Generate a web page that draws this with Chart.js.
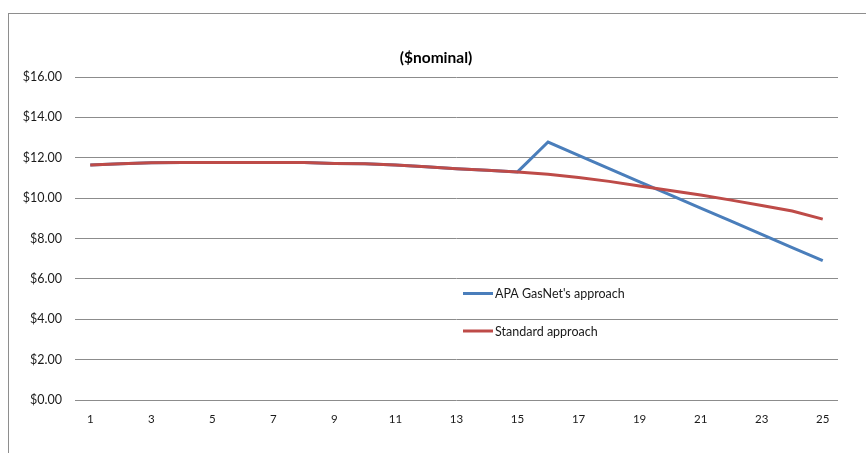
<!DOCTYPE html>
<html>
<head>
<meta charset="utf-8">
<script src="https://cdn.jsdelivr.net/npm/chart.js@4/dist/chart.umd.min.js"></script>
<style>
  html, body { margin: 0; padding: 0; background: #fff; overflow: hidden; }
  #wrap { position: relative; width: 866px; height: 453px; }
  #frame { position: absolute; left: 8px; top: 13px; width: 900px; height: 500px;
           border: 1px solid #8e8e8e; box-sizing: border-box; }
  canvas { position: absolute; left: 0; top: 0; }
</style>
</head>
<body>
<div id="wrap">
  <div id="frame"></div>
  <canvas id="chart" width="866" height="453"></canvas>
</div>
<script>
// Years 1..25
const categories = ["1","2","3","4","5","6","7","8","9","10","11","12","13",
                    "14","15","16","17","18","19","20","21","22","23","24","25"];

// Standard approach ($nominal)
const standardValues = [11.64, 11.70, 11.75, 11.76, 11.76, 11.76, 11.76, 11.76, 11.72, 11.70,
                        11.64, 11.55, 11.46, 11.38, 11.30, 11.18, 11.02, 10.83, 10.60, 10.38,
                        10.15, 9.90, 9.63, 9.36, 8.96];

// APA GasNet's approach ($nominal)
const apaValues = [11.64, 11.70, 11.75, 11.76, 11.76, 11.76, 11.76, 11.76, 11.72, 11.70,
                   11.64, 11.55, 11.46, 11.38, 11.30, 12.78, 12.12, 11.46, 10.81, 10.16,
                   9.51, 8.86, 8.20, 7.55, 6.90];

const seriesNames = ["APA GasNet's approach", "Standard approach"];
const yTicks = [0, 2, 4, 6, 8, 10, 12, 14, 16];
const chartTitle = "($nominal)";

const BLUE = "#4a7ebb";
const RED = "#be4b48";
const FONT = "Lato, 'Open Sans', sans-serif";

// Chart heading, centred over the whole frame
const heading = {
  id: "heading",
  afterDraw(chart) {
    const { ctx } = chart;
    ctx.save();
    ctx.font = "bold 15.5px " + FONT;
    ctx.fillStyle = "#000";
    ctx.textAlign = "center";
    ctx.textBaseline = "middle";
    ctx.fillText(chartTitle, 436, 58);
    ctx.restore();
  }
};

// Legend drawn inside the plot area, Excel style
const insideLegend = {
  id: "insideLegend",
  afterDatasetsDraw(chart) {
    const { ctx } = chart;
    const items = [
      { text: seriesNames[0], color: BLUE, y: 293.5 },
      { text: seriesNames[1], color: RED, y: 331 }
    ];
    const x0 = 463, x1 = 493;
    ctx.save();
    ctx.font = "12.5px " + FONT;
    ctx.textBaseline = "middle";
    ctx.textAlign = "left";
    items.forEach(it => {
      ctx.strokeStyle = it.color;
      ctx.lineWidth = 3;
      ctx.beginPath();
      ctx.moveTo(x0, it.y);
      ctx.lineTo(x1, it.y);
      ctx.stroke();
      ctx.fillStyle = "#1a1a1a";
      ctx.fillText(it.text, x1 + 2, it.y + 0.5);
    });
    ctx.restore();
  }
};

new Chart(document.getElementById("chart"), {
  type: "line",
  data: {
    labels: categories,
    datasets: [
      { label: seriesNames[0], data: apaValues, borderColor: BLUE, backgroundColor: BLUE,
        borderWidth: 3, pointRadius: 0, tension: 0, order: 2 },
      { label: seriesNames[1], data: standardValues, borderColor: RED, backgroundColor: RED,
        borderWidth: 3, pointRadius: 0, tension: 0, order: 1 }
    ]
  },
  options: {
    responsive: false,
    animation: false,
    layout: { padding: { left: 0, right: 28, top: 77, bottom: 0 } },
    plugins: {
      legend: { display: false },
      tooltip: { enabled: false },
      title: { display: false }
    },
    scales: {
      x: {
        type: "category",
        offset: true,
        grid: { display: false, drawTicks: false },
        border: { display: false },
        ticks: {
          autoSkip: false,
          maxRotation: 0,
          padding: 12,
          color: "#1a1a1a",
          font: { family: FONT, size: 11.5 },
          callback: function (val, idx) { return idx % 2 === 0 ? this.getLabelForValue(val) : ""; }
        },
        afterFit(scale) { scale.height = 53; }
      },
      y: {
        min: 0,
        max: 16,
        afterBuildTicks(scale) { scale.ticks = yTicks.map(v => ({ value: v })); },
        grid: { color: "#8c8c8c", lineWidth: 1, drawTicks: false },
        border: { display: false },
        ticks: {
          padding: 13,
          color: "#1a1a1a",
          font: { family: FONT, size: 12.5 },
          callback: v => "$" + Number(v).toFixed(2)
        },
        afterFit(scale) { scale.width = 75; }
      }
    }
  },
  plugins: [heading, insideLegend]
});
</script>
</body>
</html>
